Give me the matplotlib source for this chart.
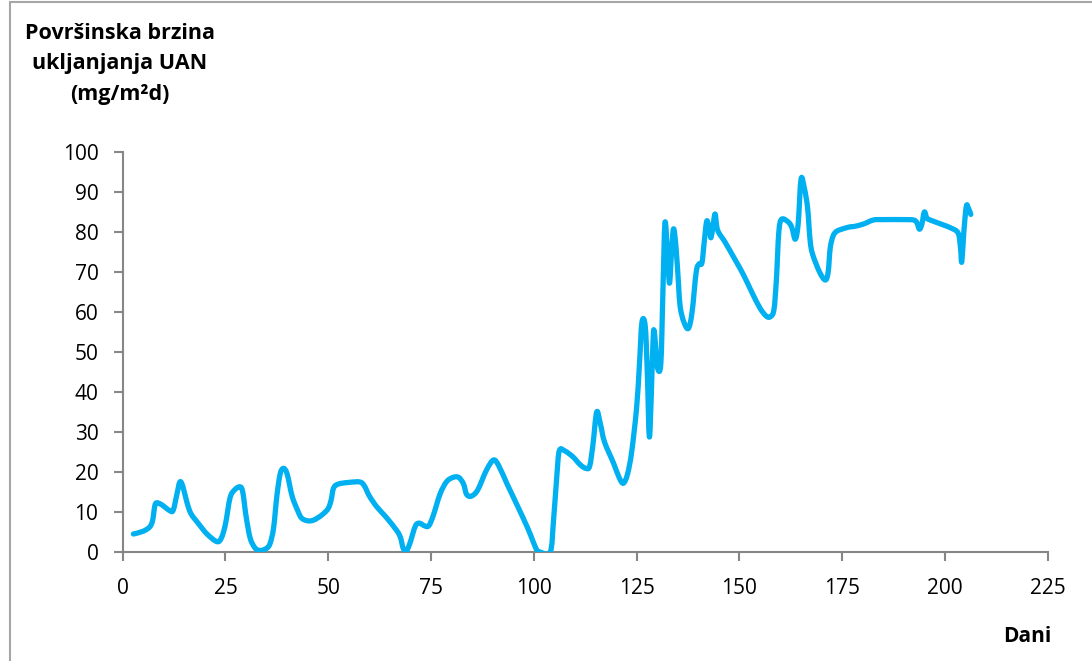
import matplotlib
matplotlib.use("Agg")
import matplotlib.pyplot as plt
from matplotlib.patches import Rectangle, PathPatch
from matplotlib.path import Path

# Data
dani = [2.6, 5, 6.6, 7.3, 7.8, 8.3, 9.5, 11.5, 12.3, 13.2, 13.9, 14.6, 15.6, 16.6, 18.5, 20.5,
        22.9, 24, 25, 26.1, 27.2, 28.5, 29.2, 30, 31, 32.2, 33.4, 34.8, 35.8, 36.7, 37.5, 38.3,
        39.1, 40, 41.2, 42.5, 43.5, 45, 46.5, 48.5, 50, 50.7, 51.3, 52.5, 55, 57.7, 58.8, 60,
        61.8, 64, 66.7, 67.6, 68.2, 68.9, 69.8, 71.2, 72.2, 73.3, 74.4, 75.5, 77.2, 78.8, 80.5,
        81.8, 82.9, 83.6, 84.5, 85.6, 86.6, 88.5, 90.2, 91.5, 93.5, 95.9, 98.5, 100.7, 101.5,
        104, 104.8, 105.6, 106.2, 107.5, 109.5, 111.3, 112.7, 113.6, 114.4, 115.3, 116.2, 117.2,
        119.4, 120.8, 121.8, 122.8, 123.8, 125, 125.7, 126.3, 127.1, 127.6, 128.1, 128.6, 129.1,
        129.6, 130.1, 130.9, 131.4, 131.9, 132.5, 133, 133.5, 134, 134.6, 135.2, 135.6, 136.5,
        137.6, 138.5, 139.5, 140.2, 140.9, 141.5, 142.1, 142.8, 143.1, 143.6, 144.1, 144.7,
        146.5, 149, 151, 153, 155, 156.5, 157.5, 158.4, 159, 159.6, 160.3, 162, 162.8, 163.6,
        164.3, 165, 165.8, 166.6, 167.2, 167.8, 169.5, 170.9, 171.6, 172.1, 172.8, 173.7, 175.5,
        177, 178, 180.2, 182.6, 185, 190, 192.4, 193.2, 193.8, 194.4, 195, 195.6, 196.4, 199,
        202.1, 203.3, 203.8, 204.1, 204.6, 205.2, 205.7, 206.3]
brzina = [4.5, 5.2, 6.3, 8, 11.5, 12.3, 11.8, 10.3, 10.5, 14.5, 17.5, 16.5, 12.5, 9.6, 7, 4.5,
          2.6, 3.5, 7, 13.5, 15.5, 16.3, 15, 9, 3.5, 1, 0.4, 0.8, 2, 6, 14, 19.5,
          20.9, 19.5, 14, 10.5, 8.5, 7.8, 8, 9.3, 10.9, 13, 16, 17, 17.4, 17.5, 16.5, 14,
          11.3, 8.8, 5.3, 3.5, 1, 0.1, 2, 6.5, 7.2, 6.6, 6.5, 9, 14.5, 17.6, 18.7,
          18.6, 17, 14.5, 13.9, 14.5, 16, 20.5, 23, 21.5, 17, 11.8, 6, 0.5, 0,
          0, 8, 19, 25.3, 25.3, 23.8, 21.8, 20.9, 21.5, 27, 35, 32, 27.5,
          22.2, 18.5, 17.2, 19.5, 25, 36, 47, 57.4, 56.5, 45, 28.8, 40, 55,
          52, 46, 47.2, 65, 82.3, 75, 67.2, 75, 80.8, 76, 67, 61.3, 57.5,
          55.9, 60, 70, 72, 72.3, 78, 82.8, 80, 78.6, 81.5, 84.5, 80.5,
          77.5, 73, 69.3, 65, 61, 59, 58.8, 60.5, 68, 80, 83.2, 82.4, 81, 78.2,
          82, 93.2, 91, 86, 78, 74.5, 70, 68, 70, 76, 79, 80.2, 80.9,
          81.3, 81.4, 82, 83, 83.1, 83.1, 83, 82.3, 80.7, 82, 85, 83.5, 83, 82,
          80.7, 79.5, 76, 72.5, 80, 86.4, 86, 84.4]

x_ticks = [0, 25, 50, 75, 100, 125, 150, 175, 200, 225]
y_ticks = [0, 10, 20, 30, 40, 50, 60, 70, 80, 90, 100]

plt.rcParams['font.family'] = ['Open Sans', 'DejaVu Sans']

W, H = 1092, 661
fig = plt.figure(figsize=(W / 100, H / 100), dpi=100)
ax = fig.add_axes([122.7 / W, 1 - 552 / H, (1047.7 - 122.7) / W, 400 / H])

ax.set_xlim(0, 225)
ax.set_ylim(0, 100)

# Smoothed line (like Excel's "smoothed line"): Bezier path through the data points,
# drawn by matplotlib in data coordinates, control points computed in display space.
pts = ax.transData.transform(list(zip(dani, brzina)))
n = len(pts)
verts = [tuple(pts[0])]
codes = [Path.MOVETO]
for i in range(n - 1):
    p0 = pts[i - 1] if i > 0 else pts[i]
    p1 = pts[i]
    p2 = pts[i + 1]
    p3 = pts[i + 2] if i + 2 < n else pts[i + 1]
    c1 = p1 + (p2 - p0) / 6.0
    c2 = p2 - (p3 - p1) / 6.0
    verts += [tuple(c1), tuple(c2), tuple(p2)]
    codes += [Path.CURVE4] * 3
inv = ax.transData.inverted()
path = Path(inv.transform(verts), codes)
ax.add_patch(PathPatch(path, facecolor='none', edgecolor='#00B0F0', lw=3.8,
                       joinstyle='round', capstyle='round', zorder=3))

ax.set_xticks(x_ticks)
ax.set_yticks(y_ticks)
for s in ['top', 'right']:
    ax.spines[s].set_visible(False)
for s in ['left', 'bottom']:
    ax.spines[s].set_color('#868686')
    ax.spines[s].set_linewidth(1.5)
ax.tick_params(axis='both', colors='#868686', length=6.5, width=1.5, labelcolor='black',
               labelsize=15)
ax.tick_params(axis='y', pad=11)
ax.tick_params(axis='x', pad=12)

fig.text(120 / W, 1 - 64 / H, 'Površinska brzina\nukljanjanja UAN\n(mg/m²d)',
         ha='center', va='center', fontsize=15.5, fontweight='bold', linespacing=1.62)
fig.text(1027 / W, 1 - 636 / H, 'Dani', ha='center', va='center', fontsize=15,
         fontweight='bold')

# outer chart-area border (left and top visible)
fig.patches.append(Rectangle((10 / W, -0.1), 2, 1.1 - 1.5 / H, transform=fig.transFigure,
                             fill=False, edgecolor='#A6A6A6', lw=1.5))

fig.savefig('out.png', dpi=100)
